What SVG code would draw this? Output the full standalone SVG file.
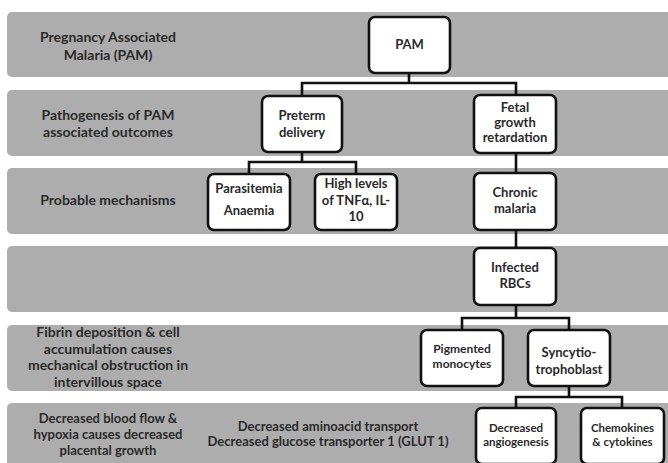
<svg xmlns="http://www.w3.org/2000/svg" width="668" height="463" viewBox="0 0 668 463">
<style>
.band{fill:#adadad}
.box{fill:#fff;stroke:#111;stroke-width:2.6}
.t{font-family:Lato,"Liberation Sans",sans-serif;font-weight:bold;fill:#2a2a2a;text-anchor:middle}
.lab{font-size:14px}
.nd{font-size:13px}
.bl{font-size:13px}
.sm{font-size:12px}
.xs{font-size:11.5px}
.con{fill:none;stroke:#111;stroke-width:2.6}
</style>
<rect width="668" height="463" fill="#fff"/>
<g id="bands">
<rect class="band" x="7" y="12" width="670" height="65" rx="5"/>
<rect class="band" x="7" y="90" width="670" height="66" rx="5"/>
<rect class="band" x="7" y="168" width="670" height="66" rx="5"/>
<rect class="band" x="7" y="246" width="670" height="66" rx="5"/>
<rect class="band" x="7" y="325" width="670" height="66" rx="5"/>
<rect class="band" x="7" y="403" width="670" height="70" rx="5"/>
</g>
<g id="labels">
<text class="t lab" x="108" y="42">Pregnancy Associated</text>
<text class="t lab" x="108" y="60">Malaria (PAM)</text>
<text class="t lab" x="108" y="120">Pathogenesis of PAM</text>
<text class="t lab" x="108" y="137">associated outcomes</text>
<text class="t lab" x="108" y="205">Probable mechanisms</text>
<text class="t lab" x="108" y="337">Fibrin deposition &amp; cell</text>
<text class="t lab" x="108" y="354">accumulation causes</text>
<text class="t lab" x="108" y="370">mechanical  obstruction in</text>
<text class="t lab" x="108" y="387">intervillous space</text>
<text class="t bl" x="108" y="423">Decreased blood flow &amp;</text>
<text class="t bl" x="108" y="439">hypoxia causes decreased</text>
<text class="t bl" x="108" y="455">placental growth</text>
<text class="t bl" x="328" y="431">Decreased aminoacid transport</text>
<text class="t bl" x="328" y="446">Decreased glucose transporter 1 (GLUT 1)</text>
</g>
<g id="connectors">
<path class="con" d="M409 73 V83 M302 96 V83 H516 V95"/>
<path class="con" d="M302 152 V162 M249 174 V162 H356 V174"/>
<path class="con" d="M516 153 V173"/>
<path class="con" d="M516 230 V248"/>
<path class="con" d="M516 305 V318 M462 330 V318 H569 V330"/>
<path class="con" d="M569 386 V397 M516 408 V397 H622 V408"/>
</g>
<g id="n-pam">
<rect class="box" x="369" y="17" width="81" height="56" rx="6"/>
<text class="t nd" x="409.5" y="49">PAM</text>
</g>
<g id="n-preterm">
<rect class="box" x="262" y="96" width="80" height="56" rx="6"/>
<text class="t nd" x="302" y="120">Preterm</text>
<text class="t nd" x="302" y="137">delivery</text>
</g>
<g id="n-fetal">
<rect class="box" x="474" y="95" width="82" height="58" rx="6"/>
<text class="t nd" x="515" y="112">Fetal</text>
<text class="t nd" x="515" y="127">growth</text>
<text class="t nd" x="515" y="142">retardation</text>
</g>
<g id="n-parasitemia">
<rect class="box" x="208" y="174" width="82" height="56" rx="6"/>
<text class="t nd" x="249" y="193">Parasitemia</text>
<text class="t nd" x="249" y="215">Anaemia</text>
</g>
<g id="n-high">
<rect class="box" x="315" y="174" width="82" height="56" rx="6"/>
<text class="t nd" x="356" y="188">High levels</text>
<text class="t nd" x="356" y="205">of TNFα, IL-</text>
<text class="t nd" x="356" y="221">10</text>
</g>
<g id="n-chronic">
<rect class="box" x="474" y="173" width="82" height="57" rx="6"/>
<text class="t nd" x="515" y="197">Chronic</text>
<text class="t nd" x="515" y="213">malaria</text>
</g>
<g id="n-infected">
<rect class="box" x="474" y="248" width="82" height="57" rx="6"/>
<text class="t nd" x="515" y="272">Infected</text>
<text class="t nd" x="515" y="288">RBCs</text>
</g>
<g id="n-pigmented">
<rect class="box" x="421" y="330" width="82" height="56" rx="6"/>
<text class="t sm" x="462" y="353">Pigmented</text>
<text class="t sm" x="462" y="368">monocytes</text>
</g>
<g id="n-syncytio">
<rect class="box" x="528" y="330" width="82" height="56" rx="6"/>
<text class="t nd" x="569" y="357">Syncytio-</text>
<text class="t nd" x="569" y="374">trophoblast</text>
</g>
<g id="n-angio">
<rect class="box" x="476" y="408" width="80" height="56" rx="6"/>
<text class="t xs" x="516" y="432">Decreased</text>
<text class="t xs" x="516" y="446">angiogenesis</text>
</g>
<g id="n-chemo">
<rect class="box" x="581" y="408" width="83" height="56" rx="6"/>
<text class="t xs" x="622.5" y="432">Chemokines</text>
<text class="t xs" x="622.5" y="446">&amp; cytokines</text>
</g>
</svg>
